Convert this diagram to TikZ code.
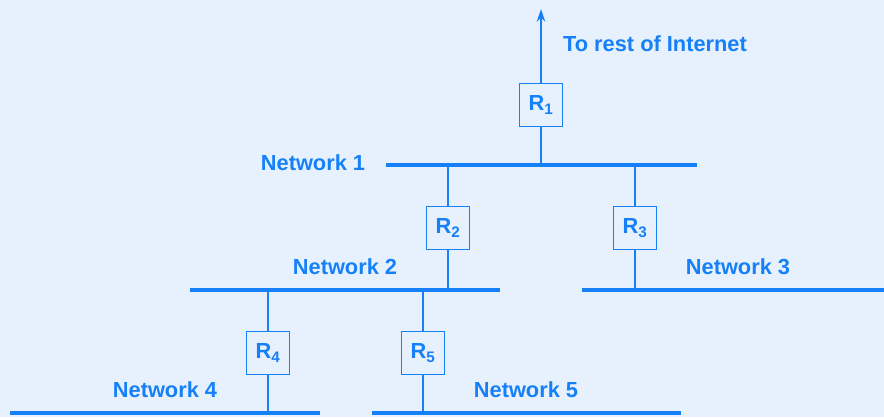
\documentclass[tikz,border=0pt]{standalone}
\usepackage{fontspec}
\setmainfont{Liberation Sans}
\usetikzlibrary{arrows.meta}
\definecolor{netblue}{RGB}{22,128,248}
\definecolor{bgblue}{RGB}{231,241,253}
\begin{document}
\begin{tikzpicture}[x=0.025cm,y=-0.025cm]
      \tikzstyle{router} = [rectangle, draw=netblue, line width=0.8pt, fill=bgblue, minimum width=1.08cm, minimum height=1.08cm, inner sep=0pt, text=netblue, font=\fontsize{15.5}{18}\selectfont\bfseries]
      \tikzstyle{bus} = [draw=netblue, line width=3.2pt]
      \tikzstyle{link} = [draw=netblue, line width=1.1pt]
      \tikzstyle{netlabel} = [text=netblue, font=\fontsize{15.5}{18}\selectfont\bfseries]

      \fill[bgblue] (0,0) rectangle (884,417);
      \useasboundingbox (0,0) rectangle (884,417);

      % networks
      \coordinate (n1w) at (386,165); \coordinate (n1e) at (697,165);
      \coordinate (n2w) at (190,290); \coordinate (n2e) at (500,290);
      \coordinate (n3w) at (582,290); \coordinate (n3e) at (884,290);
      \coordinate (n4w) at (10,413);  \coordinate (n4e) at (320,413);
      \coordinate (n5w) at (372,413); \coordinate (n5e) at (681,413);
      \coordinate (top) at (541,9);

      \draw [bus] (n1w) -- (n1e);
      \draw [bus] (n2w) -- (n2e);
      \draw [bus] (n3w) -- (n3e);
      \draw [bus] (n4w) -- (n4e);
      \draw [bus] (n5w) -- (n5e);

      % routers
      \node (r1) [router] at (541,105) {R\textsubscript{1}};
      \node (r2) [router] at (448,228) {R\textsubscript{2}};
      \node (r3) [router] at (635,228) {R\textsubscript{3}};
      \node (r4) [router] at (268,353) {R\textsubscript{4}};
      \node (r5) [router] at (423,353) {R\textsubscript{5}};

      \draw [link,-{Stealth[length=9pt,width=6pt]}] (r1.north) -- (top);
      \draw [link] (r1.south) -- (r1.south |- n1w);
      \draw [link] (r2.north) -- (r2.north |- n1w);
      \draw [link] (r2.south) -- (r2.south |- n2w);
      \draw [link] (r3.north) -- (r3.north |- n1w);
      \draw [link] (r3.south) -- (r3.south |- n3w);
      \draw [link] (r4.north) -- (r4.north |- n2w);
      \draw [link] (r4.south) -- (r4.south |- n4w);
      \draw [link] (r5.north) -- (r5.north |- n2w);
      \draw [link] (r5.south) -- (r5.south |- n5w);

      \node (net1) [netlabel] at (313,163) {Network 1};
      \node (net2) [netlabel] at (345,267) {Network 2};
      \node (net3) [netlabel] at (738,267) {Network 3};
      \node (net4) [netlabel] at (165,390) {Network 4};
      \node (net5) [netlabel] at (526,390) {Network 5};
      \node (inet) [netlabel] at (655,44) {To rest of Internet};
   \end{tikzpicture}
\end{document}
